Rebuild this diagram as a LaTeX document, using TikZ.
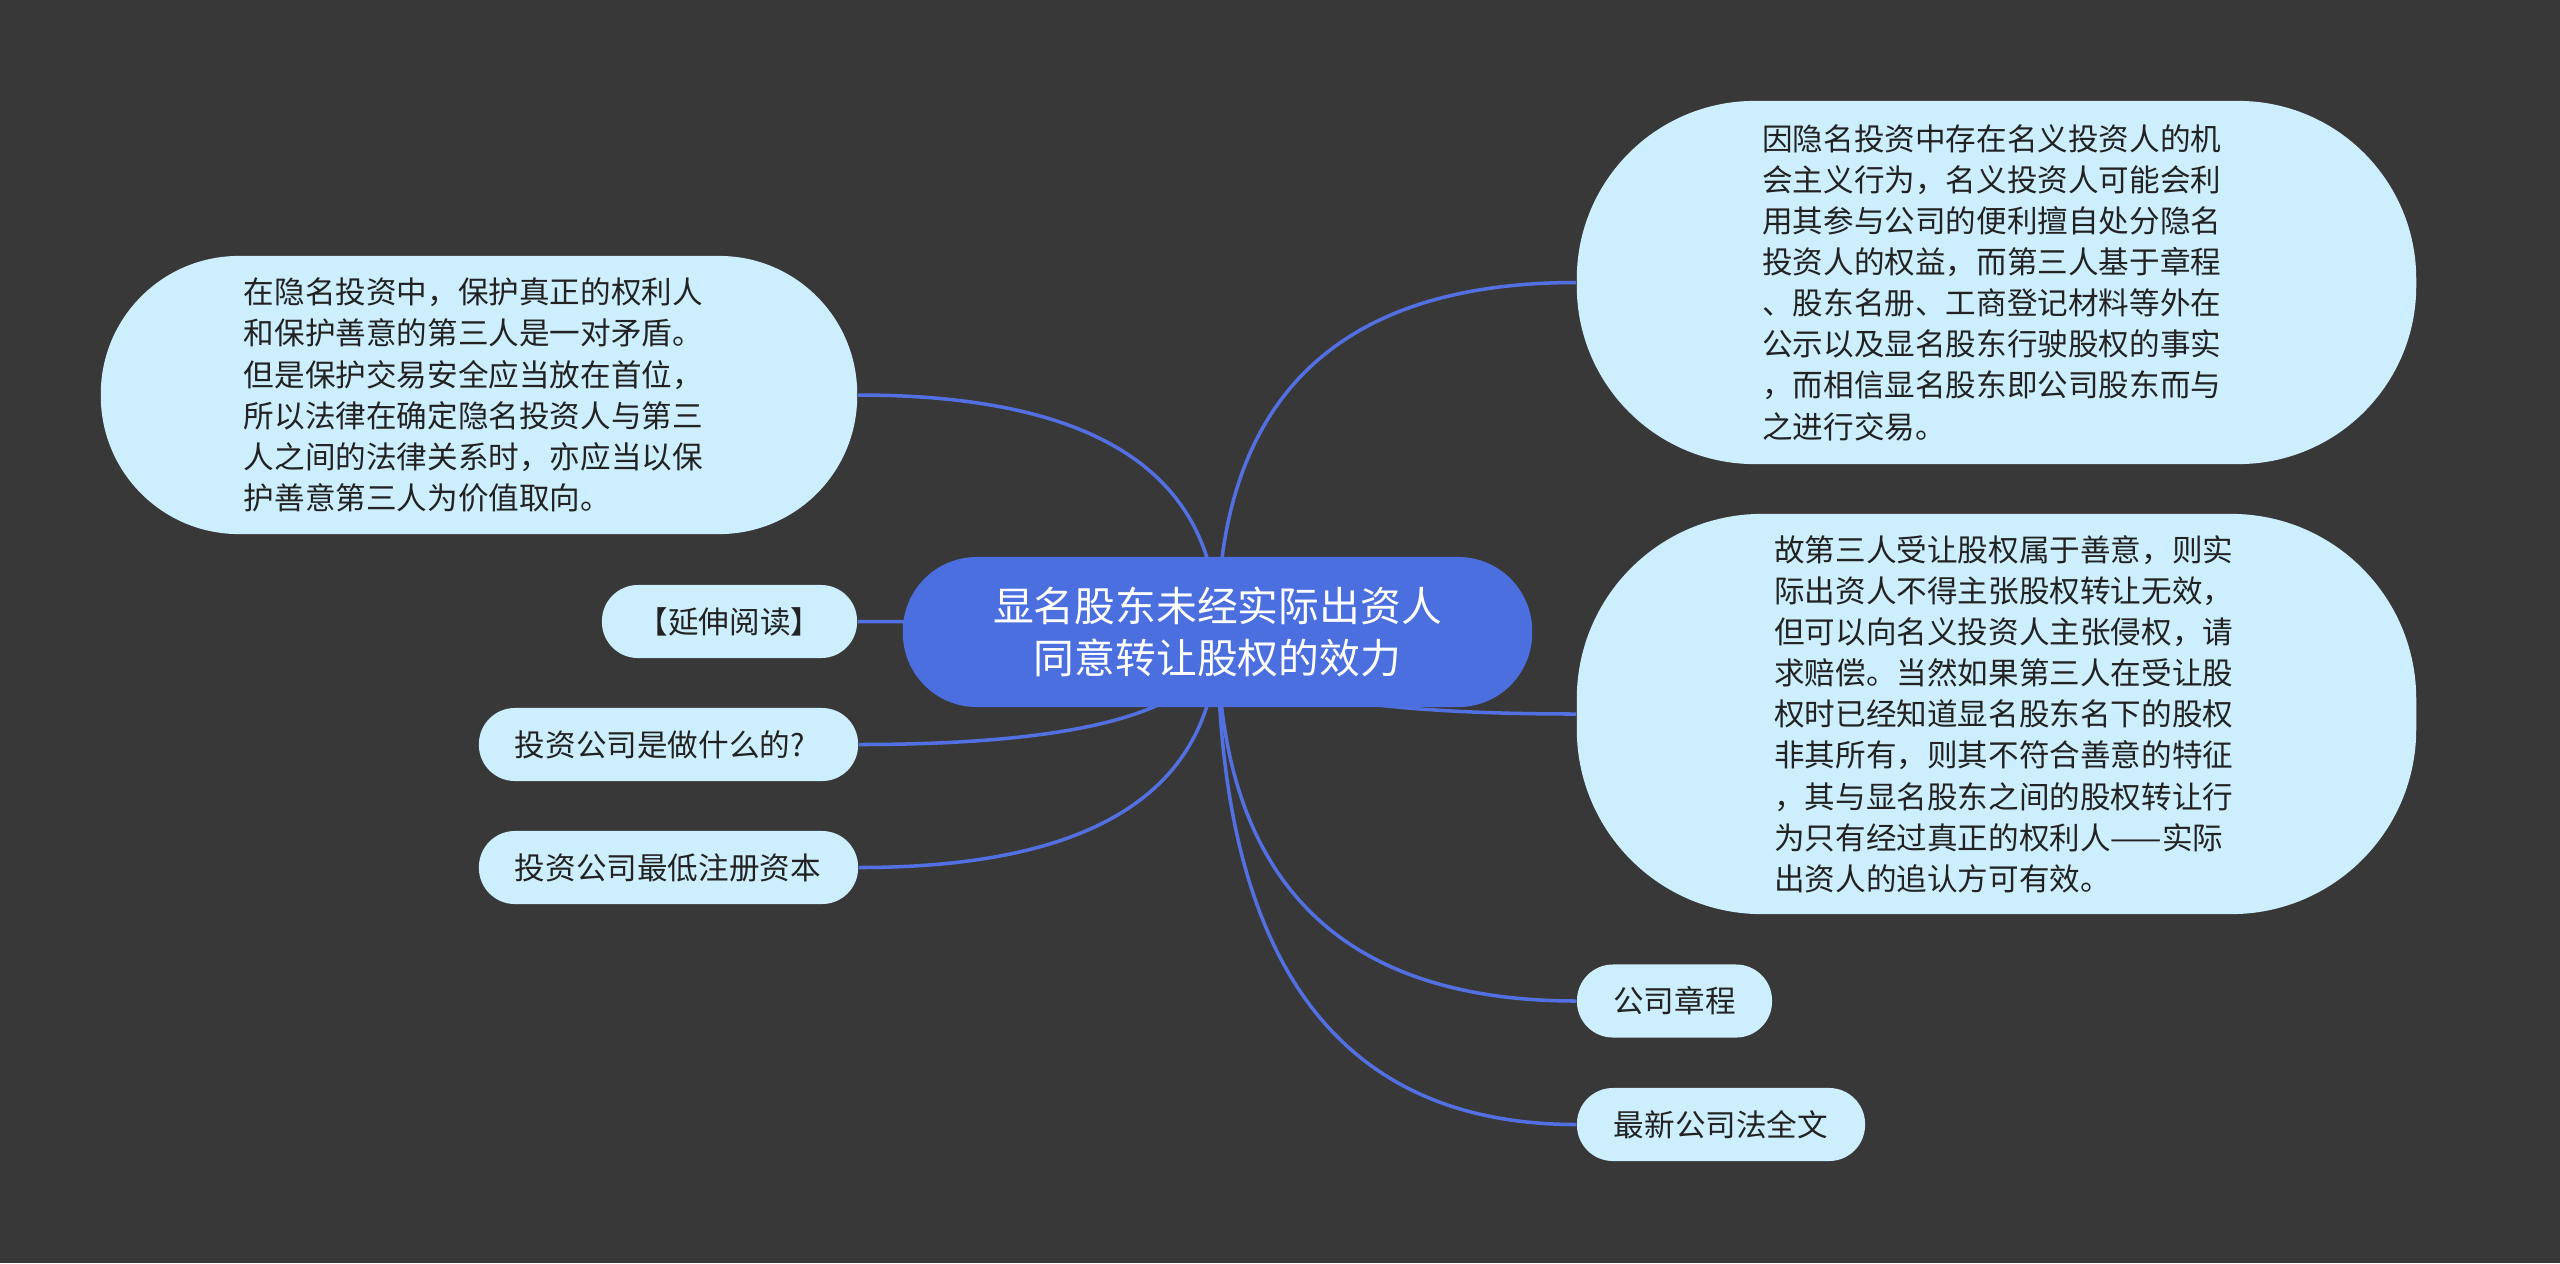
\documentclass[tikz,border=0pt]{standalone}
\usepackage{fontspec}
\setmainfont{Noto Sans CJK SC}
\usetikzlibrary{calc}
\definecolor{bgc}{RGB}{57,56,57}
\definecolor{rootc}{RGB}{76,111,224}
\definecolor{edgec}{RGB}{82,112,226}
\definecolor{leafc}{RGB}{205,238,252}
\definecolor{txtc}{RGB}{34,34,34}
\pgfdeclarelayer{bglayer}
\pgfdeclarelayer{edgelayer}
\pgfsetlayers{bglayer,edgelayer,main}
\newcommand{\ind}{\hspace*{0.33cm}}
\tikzset{
  leaf/.style={fill=leafc, text=txtc, inner sep=0pt, font=\fontsize{8.7pt}{11.7pt}\selectfont},
  bigleaf/.style={leaf, align=left, minimum width=8.39cm},
  small/.style={leaf, minimum height=0.73cm, rounded corners=0.36cm},
  rootnode/.style={fill=rootc, text=white, inner sep=0pt, align=center,
    font=\fontsize{11.6pt}{14.8pt}\selectfont, minimum width=6.29cm,
    minimum height=1.5cm, rounded corners=0.74cm},
  conn/.style={draw=edgec, line width=1pt,
    to path={.. controls ($(\tikztostart)!0.6667!(\tikztostart |- \tikztotarget)$)
      and ($(\tikztotarget)!0.6667!(\tikztostart |- \tikztotarget)$) .. (\tikztotarget)}},
}
\begin{document}
\begin{tikzpicture}[x=0.01cm, y=-0.01cm]
\begin{pgfonlayer}{bglayer}
  \fill[bgc] (0,0) rectangle (2560,1263);
\end{pgfonlayer}
\useasboundingbox (0,0) rectangle (2560,1263);

\node[rootnode] (root) at (1217.5,632) {显名股东未经实际出资人\\同意转让股权的效力};

\node[leaf, align=left, text width=4.7cm, minimum width=7.56cm, minimum height=2.78cm, rounded corners=1.38cm] (tl) at (479,395)
  {在隐名投资中，保护真正的权利人\\和保护善意的第三人是一对矛盾。\\但是保护交易安全应当放在首位，\\所以法律在确定隐名投资人与第三\\人之间的法律关系时，亦应当以保\\护善意第三人为价值取向。};

\node[small, minimum width=2.55cm] (yan) at (729.5,621.5) {【延伸阅读】};
\node[small, minimum width=3.79cm, text width=3.07cm, align=left] (q1) at (668.5,744.5) {投资公司是做什么的?};
\node[small, minimum width=3.79cm, text width=3.07cm, align=left] (q2) at (668.5,867.5) {投资公司最低注册资本};

\node[bigleaf, text width=4.68cm, minimum height=3.63cm, rounded corners=1.78cm] (tr) at (1996.5,282.5)
  {因隐名投资中存在名义投资人的机\\会主义行为，名义投资人可能会利\\用其参与公司的便利擅自处分隐名\\投资人的权益，而第三人基于章程\\、股东名册、工商登记材料等外在\\公示以及显名股东行驶股权的事实\\，而相信显名股东即公司股东而与\\之进行交易。};

\node[bigleaf, text width=5.1cm, minimum height=4.0cm, rounded corners=1.85cm] (rm) at (1996.5,714)
  {\ind 故第三人受让股权属于善意，则实\\\ind 际出资人不得主张股权转让无效，\\\ind 但可以向名义投资人主张侵权，请\\\ind 求赔偿。当然如果第三人在受让股\\\ind 权时已经知道显名股东名下的股权\\\ind 非其所有，则其不符合善意的特征\\\ind ，其与显名股东之间的股权转让行\\\ind 为只有经过真正的权利人——实际\\\ind 出资人的追认方可有效。};

\node[small, minimum width=1.95cm] (zc) at (1674.5,1001) {公司章程};
\node[small, minimum width=2.88cm] (fa) at (1721,1124.5) {最新公司法全文};

\begin{pgfonlayer}{edgelayer}
  \draw[conn] (root.center) to (tl.east);
  \draw[conn] (root.center) to (yan.east);
  \draw[conn] (root.center) to (q1.east);
  \draw[conn] (root.center) to (q2.east);
  \draw[conn] (root.center) to (tr.west);
  \draw[conn] (root.center) to (rm.west);
  \draw[conn] (root.center) to (zc.west);
  \draw[conn] (root.center) to (fa.west);
\end{pgfonlayer}
\end{tikzpicture}
\end{document}
